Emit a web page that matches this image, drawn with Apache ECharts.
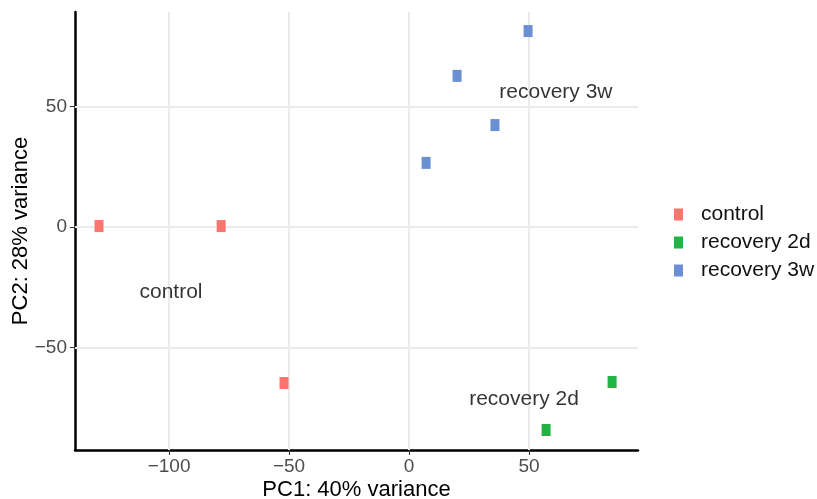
<!DOCTYPE html>
<html><head><meta charset="utf-8">
<script src="https://cdn.jsdelivr.net/npm/echarts@6/dist/echarts.min.js"></script>
<style>html,body{margin:0;padding:0;background:#fff}#c{width:817px;height:499px}</style>
</head><body><div id="c"></div>
<script>
const groups = ['control', 'recovery 2d', 'recovery 3w'];
const colors = ['#F8766D', '#1FB544', '#6A8FD2'];
const controlPts = [[-129.2, 0.4], [-78.3, 0.4], [-52.1, -64.7]];
const recovery2dPts = [[84.6, -64.3], [57.1, -84.2]];
const recovery3wPts = [[49.6, 81.3], [20.0, 62.7], [35.8, 42.3], [7.1, 26.6]];
const groupLabels = [[61.2, 56.0, 'recovery 3w'], [-99.2, -27.1, 'control'], [47.9, -71.4, 'recovery 2d']];
const xTicks = [-100, -50, 0, 50];
const yTicks = [-50, 0, 50];
const xRange = [-139.2, 95.4];
const yRange = [-92.5, 89.2];
const xTitle = 'PC1: 40% variance';
const yTitle = 'PC2: 28% variance';

const font = 'Liberation Sans, Arial, sans-serif';
const chart = echarts.init(document.getElementById('c'));
const gridLineStyle = {color: '#EBEBEB', width: 2, type: 'solid'};
const seriesData = [controlPts, recovery2dPts, recovery3wPts];
const series = groups.map((g, i) => ({
  name: g, type: 'scatter', data: seriesData[i], symbol: 'rect', symbolSize: [9, 12],
  itemStyle: {color: colors[i], opacity: 1}, z: 5
}));
series.push({
  name: '_grid', type: 'line', data: [], silent: true, z: 1,
  markLine: {
    silent: true, symbol: 'none', label: {show: false}, animation: false,
    lineStyle: gridLineStyle,
    data: xTicks.map(v => ({xAxis: v})).concat(yTicks.map(v => ({yAxis: v})))
  }
});
series.push({
  name: '_labels', type: 'scatter', data: groupLabels, symbolSize: 0, silent: true, z: 6,
  label: {show: true, position: 'inside', formatter: p => p.data[2], color: '#000', fontSize: 21, fontFamily: font}
});
const fmt = v => (v < 0 ? '\u2212' + Math.abs(v) : String(v));
chart.setOption({
  animation: false,
  grid: {left: 75, right: 179, top: 12, bottom: 49, containLabel: false, outerBoundsMode: 'none'},
  xAxis: {
    type: 'value', min: xRange[0], max: xRange[1],
    name: xTitle, nameLocation: 'middle', nameGap: 29, nameMoveOverlap: false,
    nameTextStyle: {color: '#000', fontSize: 22, fontFamily: font},
    axisLine: {show: true, onZero: false, lineStyle: {color: '#000', width: 2.5}},
    axisTick: {show: true, customValues: xTicks, length: 5, lineStyle: {color: '#333'}},
    axisLabel: {customValues: xTicks, color: '#4D4D4D', fontSize: 19, fontFamily: font, margin: 7, formatter: fmt},
    splitLine: {show: false}
  },
  yAxis: {
    type: 'value', min: yRange[0], max: yRange[1],
    name: yTitle, nameLocation: 'middle', nameGap: 43, nameMoveOverlap: false,
    nameTextStyle: {color: '#000', fontSize: 22, fontFamily: font},
    axisLine: {show: true, onZero: false, lineStyle: {color: '#000', width: 2.5}},
    axisTick: {show: true, customValues: yTicks, length: 5, lineStyle: {color: '#333'}},
    axisLabel: {customValues: yTicks, color: '#4D4D4D', fontSize: 19, fontFamily: font, margin: 8, formatter: fmt},
    splitLine: {show: false}
  },
  legend: {
    data: groups, orient: 'vertical', left: 669, top: 199,
    itemWidth: 9, itemHeight: 12, itemGap: 7, icon: 'rect',
    textStyle: {fontSize: 21, fontFamily: font, color: '#111', lineHeight: 20, padding: [0, 0, 0, 13]}
  },
  series: series
});
</script></body></html>
